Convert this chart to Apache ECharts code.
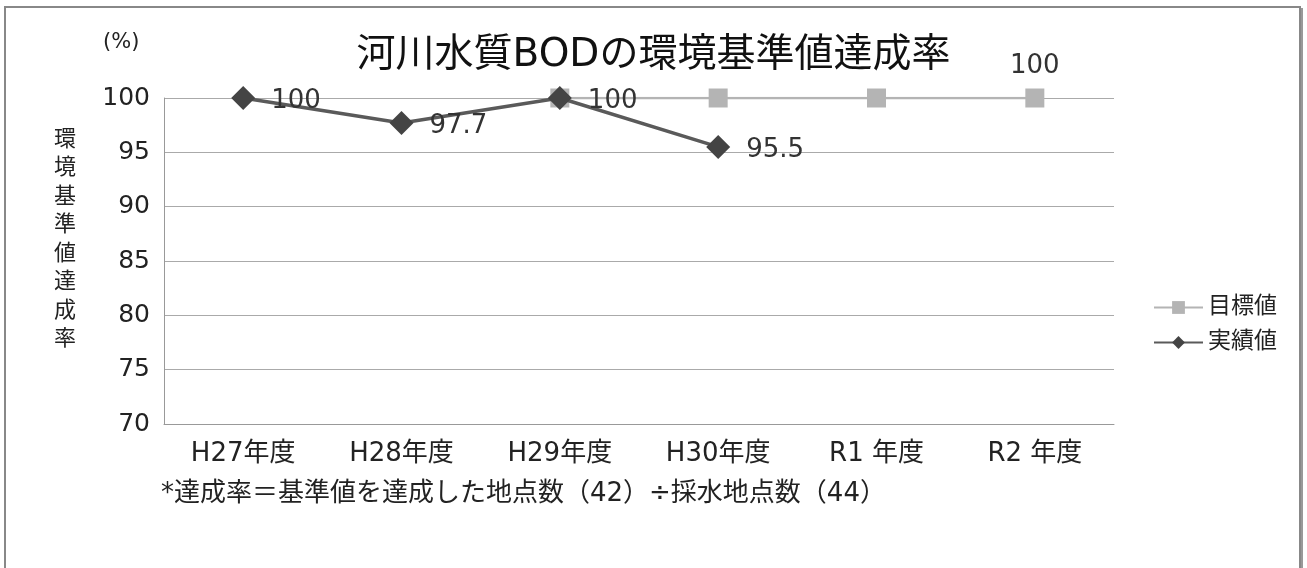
<!DOCTYPE html>
<html>
<head>
<meta charset="utf-8">
<script src="https://cdn.jsdelivr.net/npm/echarts@6/dist/echarts.min.js"></script>
<style>
  html, body { margin: 0; padding: 0; background: #fff; }
  #chart { width: 1307px; height: 568px; }
</style>
</head>
<body>
<div id="chart"></div>
<script>
// 年度
var categories = ['H27年度', 'H28年度', 'H29年度', 'H30年度', 'R1 年度', 'R2 年度'];
// 目標値
var targetValues = [null, null, 100, 100, 100, 100];
// 実績値
var actualValues = [100, 97.7, 100, 95.5, null, null];
// 縦軸の目盛
var yTicks = [70, 75, 80, 85, 90, 95, 100];

var font = '"DejaVu Sans", "Noto Sans CJK JP", sans-serif';

var myChart = echarts.init(document.getElementById('chart'));

myChart.setOption({
  backgroundColor: '#fff',
  textStyle: { fontFamily: font },
  title: {
    text: '河川水質BODの環境基準値達成率',
    left: 'center',
    top: 31,
    textStyle: { fontSize: 39, fontWeight: 'normal', color: '#111', fontFamily: font }
  },
  legend: {
    data: ['目標値', '実績値'],
    orient: 'vertical',
    left: 1153,
    top: 296,
    padding: 0,
    itemWidth: 49,
    itemHeight: 16,
    itemGap: 12,
    textStyle: { fontSize: 23, color: '#222', fontFamily: font }
  },
  grid: { left: 164, right: 193, top: 98, bottom: 144 },
  xAxis: {
    type: 'category',
    data: categories,
    boundaryGap: true,
    axisLine: { lineStyle: { color: '#999', width: 1 } },
    axisTick: { show: false },
    axisLabel: { fontSize: 26, color: '#222', margin: 17, fontFamily: font }
  },
  yAxis: {
    type: 'value',
    min: yTicks[0],
    max: yTicks[yTicks.length - 1],
    interval: 5,
    axisLine: { show: true, lineStyle: { color: '#999', width: 1 } },
    axisTick: { show: false },
    splitLine: { lineStyle: { color: '#aaa', width: 1 } },
    axisLabel: { fontSize: 25, color: '#222', margin: 14, fontFamily: font }
  },
  graphic: [
    {
      type: 'rect',
      shape: { x: 5, y: 7, width: 1295, height: 600 },
      style: { fill: 'none', stroke: '#888', lineWidth: 2 },
      silent: true
    },
    {
      type: 'line',
      shape: { x1: 1302, y1: 8, x2: 1302, y2: 568 },
      style: { stroke: '#999', lineWidth: 2 },
      silent: true
    },
    {
      type: 'text',
      left: 103,
      top: 32,
      style: { text: '(%)', fontSize: 21, fill: '#222', fontFamily: font }
    },
    {
      type: 'text',
      left: 54,
      top: 126,
      style: {
        text: '環\n境\n基\n準\n値\n達\n成\n率',
        fontSize: 22,
        lineHeight: 28.5,
        fill: '#222',
        fontFamily: font
      }
    },
    {
      type: 'text',
      left: 161,
      top: 481,
      style: {
        text: '*達成率＝基準値を達成した地点数（42）÷採水地点数（44）',
        fontSize: 26,
        fill: '#222',
        fontFamily: font
      }
    }
  ],
  series: [
    {
      name: '目標値',
      type: 'line',
      data: targetValues.map(function (v, i) {
        return {
          value: v,
          label: { show: i === targetValues.length - 1 }
        };
      }),
      symbol: 'rect',
      symbolSize: 19,
      itemStyle: { color: '#b4b4b4' },
      lineStyle: { color: '#b4b4b4', width: 2.5 },
      label: {
        position: 'top',
        distance: 9,
        fontSize: 26,
        color: '#333',
        fontFamily: font
      },
      z: 2
    },
    {
      name: '実績値',
      type: 'line',
      data: actualValues,
      symbol: 'diamond',
      symbolSize: 24,
      itemStyle: { color: '#444' },
      lineStyle: { color: '#5a5a5a', width: 3.5 },
      label: {
        show: true,
        position: 'right',
        distance: 16,
        offset: [0, 3],
        fontSize: 26,
        color: '#333',
        fontFamily: font
      },
      z: 3
    }
  ]
});

window.onresize = function () {
  myChart.resize();
};
</script>
</body>
</html>
